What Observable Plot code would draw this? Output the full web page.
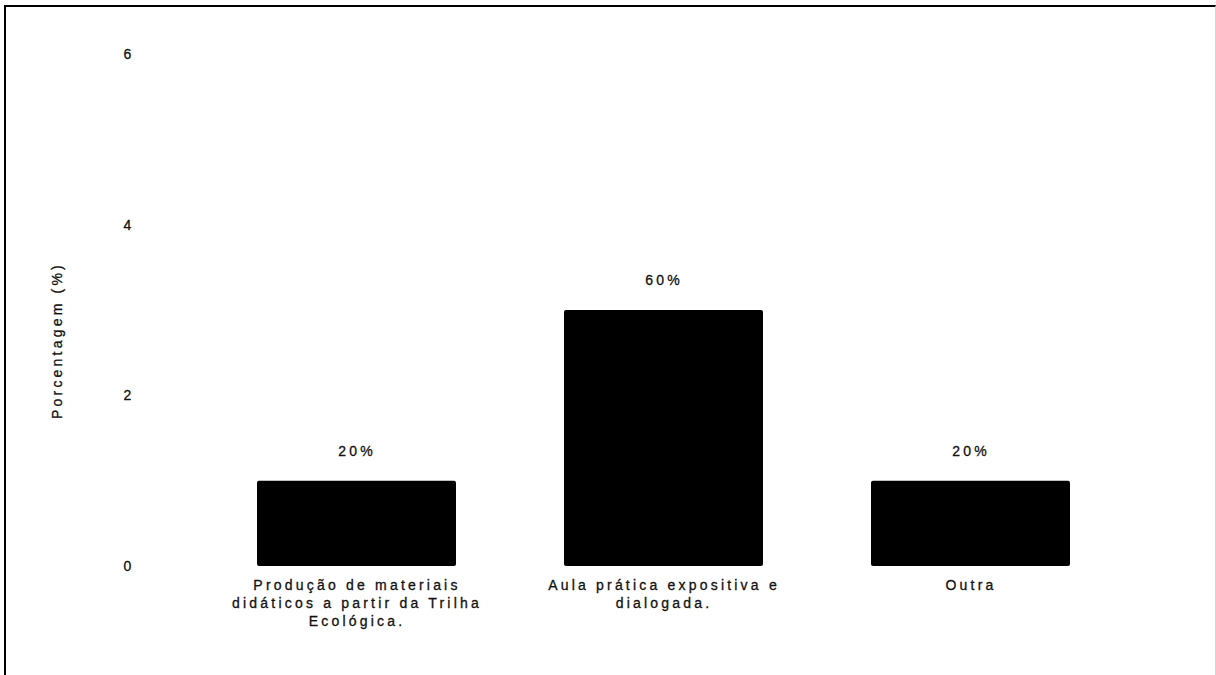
<!DOCTYPE html>
<html>
<head>
<meta charset="utf-8">
<script src="https://cdn.jsdelivr.net/npm/d3@7"></script>
<script src="https://cdn.jsdelivr.net/npm/@observablehq/plot@0.6"></script>
<style>
  html, body { margin: 0; padding: 0; background: #fff; }
  #wrap { position: relative; width: 1216px; height: 675px; overflow: hidden; }
  #frame { position: absolute; left: 4px; top: 5px; width: 1209px; height: 700px;
           border-left: 2px solid #000; border-top: 2px solid #000; border-right: 1px solid #d4d4d4;
           pointer-events: none; }
  #wrap svg text { stroke: #111; stroke-width: 0.3px; }
</style>
</head>
<body>
<div id="wrap"><div id="frame"></div></div>
<script>
const categories = [
  "Produção de materiais didáticos a partir da Trilha Ecológica.",
  "Aula prática expositiva e dialogada.",
  "Outra"
];
const tickLabels = [
  "Produção de materiais\ndidáticos a partir da Trilha\nEcológica.",
  "Aula prática expositiva e\ndialogada.",
  "Outra"
];
const values = [1, 3, 1];
const pctLabels = ["20%", "60%", "20%"];
const yTicks = [0, 2, 4, 6];
const yLabel = "Porcentagem (%)";

const data = categories.map((c, i) => ({cat: c, value: values[i], pct: pctLabels[i]}));

const chart = Plot.plot({
  width: 1216,
  height: 675,
  marginTop: 54,
  marginBottom: 109,
  marginLeft: 147.5,
  marginRight: 37.5,
  style: {fontFamily: "'Liberation Sans', Arial, sans-serif", fontSize: "14px", color: "#111", background: "transparent", letterSpacing: "3.2px", overflow: "visible"},
  x: {domain: categories, padding: 0.353, label: null},
  y: {domain: [0, 6], label: null},
  marks: [
    Plot.barY(data, {x: "cat", y: "value", fill: "#000", rx: 2}),
    Plot.text(data, {x: "cat", y: "value", text: "pct", dy: -30, fontSize: 14}),
    Plot.axisX({tickSize: 0, tickPadding: 11, lineHeight: 1.27, fontSize: 14,
      tickFormat: d => tickLabels[categories.indexOf(d)], label: null}),
    Plot.axisY({ticks: yTicks, tickSize: 0, tickPadding: 19, textAnchor: "middle", fontSize: 14,
      tickFormat: d => String(d), label: null}),
    Plot.text([yLabel], {frameAnchor: "left", text: d => d, dx: -90.5, dy: 30, rotate: -90,
      textAnchor: "middle", lineAnchor: "middle", fontSize: 14, ariaLabel: "ylabel"})
  ]
});
chart.style.position = "absolute";
chart.style.left = "0px";
chart.style.top = "0px";
document.getElementById("wrap").insertBefore(chart, document.getElementById("frame"));
d3.select(chart).selectAll('[aria-label="ylabel"] text').style("letter-spacing", "2.6px");
</script>
</body>
</html>
